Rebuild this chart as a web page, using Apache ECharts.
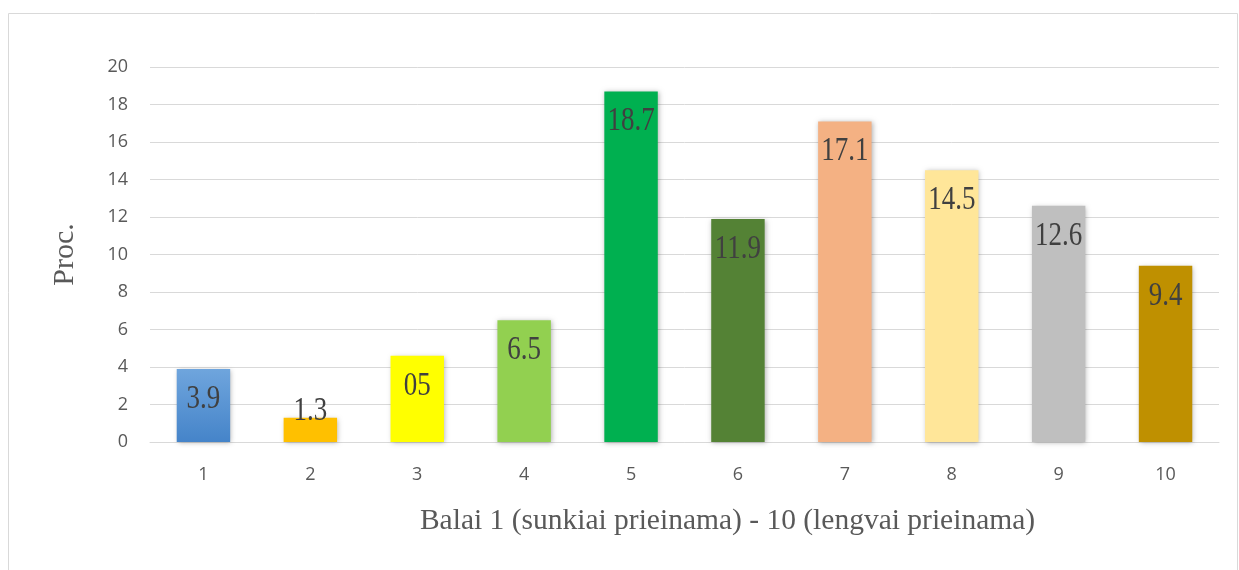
<!DOCTYPE html>
<html>
<head>
<meta charset="utf-8">
<script src="https://cdn.jsdelivr.net/npm/echarts@6/dist/echarts.min.js"></script>
<style>
  html, body { margin: 0; padding: 0; background: #fff; }
</style>
</head>
<body>
<div id="main" style="width: 1239px;height:570px;"></div>

<script type="text/javascript">
    var categories = ['1', '2', '3', '4', '5', '6', '7', '8', '9', '10'];
    var values = [3.9, 1.3, 4.6, 6.5, 18.7, 11.9, 17.1, 14.5, 12.6, 9.4];
    var labels = ['3.9', '1.3', '05', '6.5', '18.7', '11.9', '17.1', '14.5', '12.6', '9.4'];
    var colors = ['#5b9bd5', '#ffc000', '#ffff00', '#92d050', '#00b050',
                  '#548235', '#f4b183', '#ffe699', '#bfbfbf', '#bf9000'];

    var myChart = echarts.init(document.getElementById('main'));

    var barData = values.map(function (v, i) {
        var c = colors[i];
        if (i === 0) {
            // first bar has a soft gradient
            c = new echarts.graphic.LinearGradient(0, 0, 0, 1, [
                {offset: 0, color: '#6fa5dd'},
                {offset: 1, color: '#4584c9'}
            ]);
        }
        return {value: v, itemStyle: {color: c}};
    });

    // labels drawn as tall serif text (the original is vertically stretched)
    function renderLabel(params, api) {
        var i = params.dataIndex;
        var p = api.coord([api.value(0), api.value(1)]);
        var dy = i === 1 ? -6 : 30;   // short bar: label sits over the top edge
        return {
            type: 'text',
            x: p[0],
            y: p[1] + dy,
            scaleY: 1.25,
            silent: true,
            style: {
                text: labels[i],
                fontFamily: 'Liberation Serif',
                fontSize: 27,
                fill: '#404040',
                align: 'center',
                verticalAlign: 'middle'
            }
        };
    }

    var option = {
        animation: false,
        graphic: [{
            type: 'rect',
            shape: {x: 8.5, y: 13.5, width: 1229, height: 570},
            style: {fill: 'none', stroke: '#d9d9d9', lineWidth: 1},
            silent: true
        }],
        grid: {
            left: 150,
            right: 20,
            top: 67,
            bottom: 128
        },
        xAxis: {
            type: 'category',
            data: categories,
            name: 'Balai 1 (sunkiai prieinama) - 10 (lengvai prieinama)',
            nameLocation: 'middle',
            nameGap: 64,
            nameTextStyle: {
                fontFamily: 'Liberation Serif',
                fontSize: 29.5,
                color: '#595959',
                padding: [0, 0, 0, 86]
            },
            axisLine: {lineStyle: {color: '#d9d9d9', width: 1}},
            axisTick: {show: false},
            axisLabel: {
                fontFamily: 'Open Sans',
                fontSize: 18,
                color: '#595959',
                margin: 24
            }
        },
        yAxis: {
            type: 'value',
            min: 0,
            max: 20,
            interval: 2,
            name: 'Proc.',
            nameLocation: 'middle',
            nameGap: 70,
            nameTextStyle: {
                fontFamily: 'Liberation Serif',
                fontSize: 30,
                color: '#595959'
            },
            axisLine: {show: false},
            axisTick: {show: false},
            splitLine: {lineStyle: {color: '#d9d9d9', width: 1}},
            axisLabel: {
                fontFamily: 'Open Sans',
                fontSize: 18,
                color: '#595959',
                margin: 22
            }
        },
        series: [
            {
                name: 'Proc.',
                type: 'bar',
                barWidth: '50%',
                data: barData,
                itemStyle: {
                    shadowBlur: 5,
                    shadowColor: 'rgba(0,0,0,0.3)',
                    shadowOffsetX: 1,
                    shadowOffsetY: 1
                }
            },
            {
                name: 'labels',
                type: 'custom',
                renderItem: renderLabel,
                data: values.map(function (v, i) { return [i, v]; }),
                z: 5
            }
        ]
    };

    myChart.setOption(option);
</script>
</body>
</html>
